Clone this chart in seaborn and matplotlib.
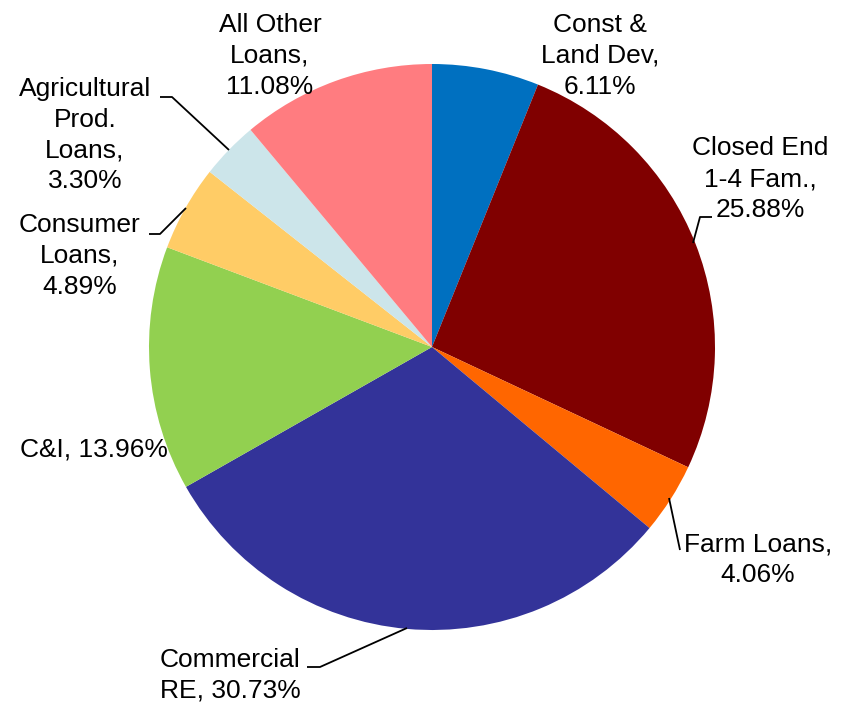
import matplotlib
matplotlib.use("Agg")
import matplotlib.pyplot as plt
import seaborn as sns

categories = ["Const &\nLand Dev", "Closed End\n1-4 Fam.", "Farm Loans", "Commercial\nRE",
              "C&I", "Consumer\nLoans", "Agricultural\nProd.\nLoans", "All Other\nLoans"]
shares = [6.11, 25.88, 4.06, 30.73, 13.96, 4.89, 3.30, 11.08]
colors = ["#0070C0", "#800000", "#FF6600", "#333399", "#92D050", "#FFCC66", "#CCE5EA", "#FF7C80"]

sns.set_theme(style="white")
plt.rcParams["font.family"] = ["Liberation Sans", "DejaVu Sans"]

W, H = 851, 703
fig = plt.figure(figsize=(W / 100, H / 100), dpi=100)
ax = fig.add_axes([0, 0, 1, 1])


def py(y):
    # convert a downward pixel row into the upward data axis
    return H - y


cx, cy, r = 432, 347, 283
ax.pie(shares, colors=colors, startangle=90, counterclock=False,
       center=(cx, py(cy)), radius=r, frame=True,
       wedgeprops=dict(linewidth=0))
ax.set_xlim(0, W)
ax.set_ylim(0, H)
ax.set_aspect("equal")
ax.axis("off")


def fmt(name, v, sep=",\n"):
    return f"{name}{sep}{v:.2f}%"


fs = 19
ls = 1.36
labels = [
    (fmt(categories[0], shares[0]), 600, 56, "center"),
    (fmt(categories[1], shares[1]), 760, 179, "center"),
    (fmt(categories[2], shares[2]), 758, 560, "center"),
    (fmt(categories[3], shares[3], sep=", "), 160, 675, "left"),
    (fmt(categories[4], shares[4], sep=", "), 94, 450, "center"),
    (fmt(categories[5], shares[5]), 80, 256, "center"),
    (fmt(categories[6], shares[6]), 85, 135, "center"),
    (fmt(categories[7], shares[7]), 270, 56, "center"),
]
for txt, x, y, ha in labels:
    ax.text(x, py(y), txt, ha=ha, va="center", fontsize=fs, linespacing=ls,
            color="black", multialignment="center" if ha == "center" else "left")

leaders = [
    [(712, 217), (700, 217), (693, 243)],
    [(680, 550), (669, 498)],
    [(307, 667), (320, 667), (407, 628)],
    [(149, 234), (160, 234), (186, 208)],
    [(160, 97), (172, 97), (229, 150)],
]
for pts in leaders:
    xs = [p[0] for p in pts]
    ys = [py(p[1]) for p in pts]
    ax.plot(xs, ys, color="black", linewidth=1.3, solid_capstyle="butt")

fig.savefig("out.png", dpi=100)
